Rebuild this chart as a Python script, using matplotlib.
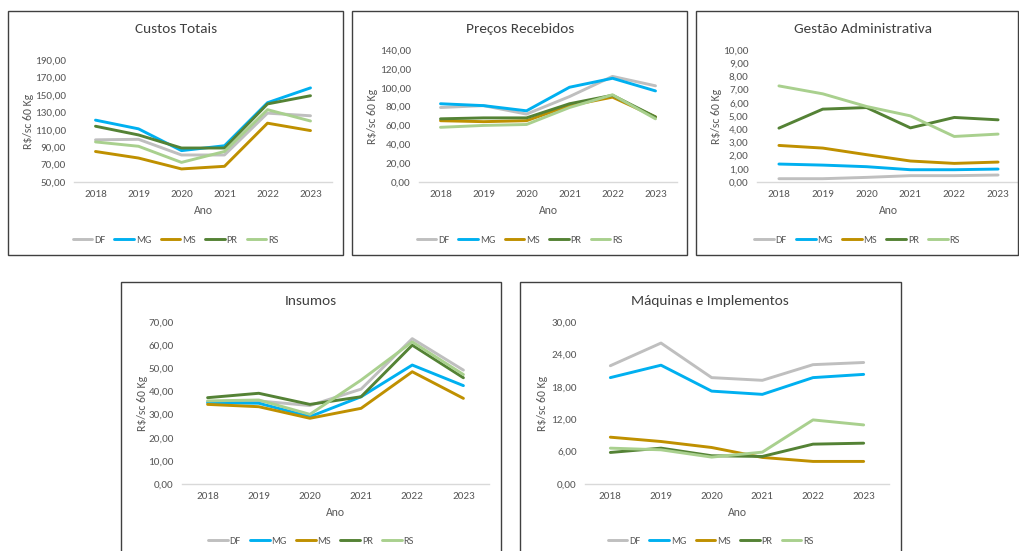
import matplotlib
matplotlib.use("Agg")
import matplotlib.pyplot as plt
from matplotlib.patches import Rectangle

plt.rcParams['font.family'] = ['Carlito', 'Lato', 'DejaVu Sans']

years = ['2018', '2019', '2020', '2021', '2022', '2023']
states = ['DF', 'MG', 'MS', 'PR', 'RS']
colors = ['#BFBFBF', '#00B0F0', '#BF9000', '#548235', '#A9D08E']

custos_totais = {
    'DF': [98.4, 99.0, 81.0, 81.0, 129.0, 126.0],
    'MG': [121.0, 111.0, 86.0, 91.6, 141.0, 158.0],
    'MS': [85.0, 77.5, 65.0, 68.0, 117.5, 109.0],
    'PR': [114.0, 104.0, 89.0, 89.0, 139.6, 149.0],
    'RS': [96.0, 91.0, 72.5, 85.0, 133.0, 120.0],
}
precos_recebidos = {
    'DF': [79.0, 81.0, 72.0, 90.6, 112.0, 102.0],
    'MG': [83.0, 81.0, 75.5, 100.5, 110.0, 96.6],
    'MS': [65.0, 64.0, 65.0, 81.0, 90.0, 69.0],
    'PR': [67.0, 68.0, 68.0, 83.0, 92.0, 69.0],
    'RS': [58.0, 60.0, 61.0, 79.0, 92.5, 67.0],
}
gestao_adm = {
    'DF': [0.25, 0.25, 0.35, 0.48, 0.48, 0.53],
    'MG': [1.36, 1.28, 1.16, 0.93, 0.93, 0.98],
    'MS': [2.77, 2.57, 2.07, 1.59, 1.41, 1.51],
    'PR': [4.08, 5.52, 5.64, 4.10, 4.89, 4.71],
    'RS': [7.28, 6.68, 5.72, 5.01, 3.45, 3.63],
}
insumos = {
    'DF': [35.6, 35.9, 33.9, 41.0, 62.8, 49.2],
    'MG': [35.1, 34.9, 29.1, 37.7, 51.4, 42.5],
    'MS': [34.4, 33.4, 28.4, 32.7, 48.5, 37.0],
    'PR': [37.3, 39.2, 34.4, 37.7, 60.0, 45.9],
    'RS': [35.9, 36.3, 30.1, 44.9, 61.4, 47.3],
}
maquinas = {
    'DF': [21.9, 26.1, 19.7, 19.2, 22.1, 22.5],
    'MG': [19.7, 22.0, 17.2, 16.6, 19.7, 20.3],
    'MS': [8.67, 7.87, 6.76, 4.92, 4.18, 4.18],
    'PR': [5.84, 6.64, 5.23, 5.10, 7.38, 7.56],
    'RS': [6.64, 6.33, 4.98, 5.90, 11.87, 10.94],
}

W, H = 1019, 551
fig = plt.figure(figsize=(W / 100, H / 100), dpi=100)

def fx(px):
    return px / W

def fy(py):
    return 1 - py / H

TXT = '#595959'

# title, data, border, axes box, ylim, step, title pos, legend y, ylabel x, xlabel y
panels = [
    ('Custos Totais', custos_totais, (8, 11, 343, 255), (74, 332, 60, 182), (50, 190), 20, (176, 29), 240, 29, 211),
    ('Preços Recebidos', precos_recebidos, (352, 11, 687, 255), (419, 677, 50, 182), (0, 140), 20, (520, 29), 240, 373, 211),
    ('Gestão Administrativa', gestao_adm, (696, 11, 1018, 255), (757, 1020, 50, 182), (0, 10), 1, (863, 29), 240, 717, 211),
    ('Insumos', insumos, (121, 282, 501, 575), (182, 489, 322, 484), (0, 70), 10, (311, 301), 541, 142, 513),
    ('Máquinas e Implementos', maquinas, (520, 282, 901, 575), (585, 889, 322, 484), (0, 30), 6, (710, 301), 541, 542, 513),
]

for title, data, border, axbox, ylim, step, tpos, legy, ylx, xly in panels:
    bx0, by0, bx1, by1 = border
    fig.patches.append(Rectangle((fx(bx0), fy(by1)), fx(bx1 - bx0), (by1 - by0) / H,
                                 transform=fig.transFigure, fill=False,
                                 edgecolor='#404040', linewidth=1.0, zorder=0))
    ax0, ax1, ayt, ayb = axbox
    ax = fig.add_axes([fx(ax0), fy(ayb), fx(ax1 - ax0), (ayb - ayt) / H])
    x = list(range(len(years)))
    handles = []
    for st, c in zip(states, colors):
        h, = ax.plot(x, data[st], color=c, linewidth=2.1, solid_capstyle='round', label=st)
        handles.append(h)
    ax.set_xlim(-0.5, len(years) - 0.5)
    ax.set_ylim(*ylim)
    yt = []
    v = ylim[0]
    while v <= ylim[1] + 1e-9:
        yt.append(v)
        v += step
    ax.set_yticks(yt)
    ax.set_yticklabels([f'{t:.2f}'.replace('.', ',') for t in yt])
    ax.set_xticks(x)
    ax.set_xticklabels(years)
    ax.tick_params(length=0, labelsize=8, colors=TXT, pad=6)
    for s in ['top', 'right', 'left']:
        ax.spines[s].set_visible(False)
    ax.spines['bottom'].set_color('#D9D9D9')
    ax.spines['bottom'].set_linewidth(1.0)
    ax.patch.set_alpha(0)
    fig.text(fx((ax0 + ax1) / 2), fy(xly), 'Ano', ha='center', va='center', fontsize=8.5, color=TXT)
    fig.text(fx(ylx), fy((ayt + ayb) / 2), 'R$/sc 60 Kg', ha='center', va='center',
             rotation=90, fontsize=8.5, color=TXT)
    fig.text(fx(tpos[0]), fy(tpos[1]), title, ha='center', va='center', fontsize=11, color='#404040')
    cx = (bx0 + bx1) / 2
    fig.legend(handles, states, loc='center', bbox_to_anchor=(fx(cx), fy(legy)), ncol=5,
               frameon=False, fontsize=7.5, handlelength=1.9, handletextpad=0.15,
               columnspacing=0.9, labelcolor=TXT)

fig.savefig('out.png', dpi=100)
